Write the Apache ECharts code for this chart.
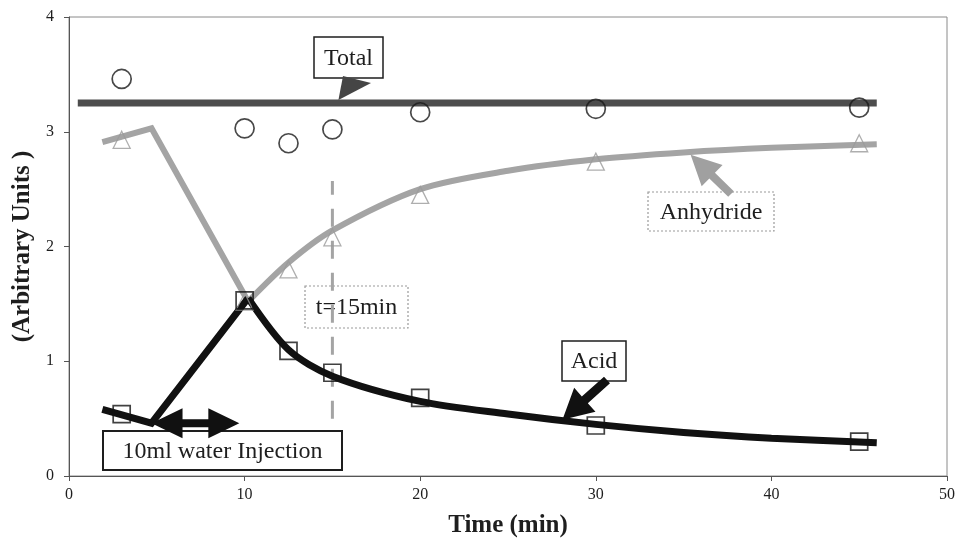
<!DOCTYPE html>
<html>
<head>
<meta charset="utf-8">
<script src="https://cdn.jsdelivr.net/npm/echarts@6/dist/echarts.min.js"></script>
<style>
  html, body { margin: 0; padding: 0; background: #ffffff; }
  #chart { width: 958px; height: 544px; }
</style>
</head>
<body>
<div id="chart"></div>
<script>
// Sampled times (min) and measured amounts (arbitrary units)
const sampleTimes = [3, 10, 12.5, 15, 20, 30, 45];
const totalMeasured = [3.46, 3.03, 2.90, 3.02, 3.17, 3.20, 3.21];
const anhydrideMeasured = [2.93, 1.52, 1.80, 2.08, 2.45, 2.74, 2.90];
const acidMeasured = [0.54, 1.53, 1.09, 0.90, 0.68, 0.44, 0.30];

// Total level line
const totalLevel = 3.25;
const totalSpanX = [0.5, 46];

// Anhydride trend: straight part before/at injection, then the recovery curve
const anhydrideStepX = [1.9, 4.7, 10.2];
const anhydrideStepY = [2.91, 3.03, 1.52];
const anhydrideFitX = [10.2, 12.5, 15, 20, 25, 30, 35, 40, 46];
const anhydrideFitY = [1.52, 1.86, 2.14, 2.50, 2.66, 2.76, 2.82, 2.86, 2.89];

// Acid trend: straight part before/at injection, then the decay curve
const acidStepX = [1.9, 4.7, 10.2];
const acidStepY = [0.58, 0.46, 1.55];
const acidFitX = [10.2, 12.5, 15, 20, 25, 30, 35, 40, 46];
const acidFitY = [1.55, 1.10, 0.87, 0.65, 0.54, 0.45, 0.38, 0.33, 0.29];

// Vertical marker at t = 15 min
const markerTime = 15;
const markerSpanY = [0.5, 2.57];

// Axis ticks
const xTicks = [0, 10, 20, 30, 40, 50];
const yTicks = [0, 1, 2, 3, 4];

const pairs = (xs, ys) => xs.map((x, i) => [x, ys[i]]);

const SERIF = '"Liberation Serif", "DejaVu Serif", serif';
const INK = '#1e1e1e';
const GREY = '#a4a4a4';

const chart = echarts.init(document.getElementById('chart'), null, { renderer: 'canvas' });

const option = {
  animation: false,
  backgroundColor: '#ffffff',
  grid: {
    left: 69, top: 17, right: 9, bottom: 68,
    show: true, borderColor: '#8a8a8a', borderWidth: 1, backgroundColor: 'transparent'
  },
  xAxis: {
    type: 'value',
    min: xTicks[0], max: xTicks[xTicks.length - 1], interval: xTicks[1] - xTicks[0],
    name: 'Time (min)', nameLocation: 'middle', nameGap: 37,
    nameTextStyle: { fontFamily: SERIF, fontWeight: 'bold', fontSize: 25, color: INK },
    axisLine: { show: true, lineStyle: { color: '#555', width: 1 } },
    axisTick: { show: true, inside: false, length: 5, lineStyle: { color: '#555' } },
    axisLabel: { fontFamily: SERIF, fontSize: 16, color: INK, margin: 11 },
    splitLine: { show: false }
  },
  yAxis: {
    type: 'value',
    min: yTicks[0], max: yTicks[yTicks.length - 1], interval: yTicks[1] - yTicks[0],
    name: '(Arbitrary Units )', nameLocation: 'middle', nameGap: 30, nameRotate: 90,
    nameTextStyle: { fontFamily: SERIF, fontWeight: 'bold', fontSize: 25, color: INK },
    axisLine: { show: true, lineStyle: { color: '#555', width: 1 } },
    axisTick: { show: true, inside: false, length: 5, lineStyle: { color: '#555' } },
    axisLabel: { fontFamily: SERIF, fontSize: 16, color: INK, margin: 15 },
    splitLine: { show: false }
  },
  series: [
    {
      name: 'Total level', type: 'line', data: [[totalSpanX[0], totalLevel], [totalSpanX[1], totalLevel]],
      showSymbol: false, symbol: 'none', silent: true, z: 2,
      lineStyle: { color: '#4d4d4d', width: 7 }
    },
    {
      name: 't marker', type: 'line', data: [[markerTime, markerSpanY[0]], [markerTime, markerSpanY[1]]],
      symbol: 'none', silent: true, z: 1,
      lineStyle: { color: GREY, width: 3, type: [18, 14] }
    },
    {
      name: 'Anhydride step', type: 'line', data: pairs(anhydrideStepX, anhydrideStepY),
      symbol: 'none', silent: true, z: 3,
      lineStyle: { color: GREY, width: 6, join: 'miter' }
    },
    {
      name: 'Anhydride fit', type: 'line', data: pairs(anhydrideFitX, anhydrideFitY),
      symbol: 'none', smooth: 0.3, silent: true, z: 3,
      lineStyle: { color: GREY, width: 6 }
    },
    {
      name: 'Acid step', type: 'line', data: pairs(acidStepX, acidStepY),
      symbol: 'none', silent: true, z: 4,
      lineStyle: { color: '#111', width: 7, join: 'miter' }
    },
    {
      name: 'Acid fit', type: 'line', data: pairs(acidFitX, acidFitY),
      symbol: 'none', smooth: 0.3, silent: true, z: 4,
      lineStyle: { color: '#111', width: 7 }
    },
    {
      name: 'Total', type: 'scatter', data: pairs(sampleTimes, totalMeasured),
      symbol: 'circle', symbolSize: 19, z: 5,
      itemStyle: { color: 'rgba(0,0,0,0)', borderColor: '#1a1a1a', borderWidth: 1.7 }
    },
    {
      name: 'Anhydride', type: 'scatter', data: pairs(sampleTimes, anhydrideMeasured),
      symbol: 'triangle', symbolSize: 17, z: 5,
      itemStyle: { color: 'rgba(0,0,0,0)', borderColor: '#9a9a9a', borderWidth: 1.3 }
    },
    {
      name: 'Acid', type: 'scatter', data: pairs(sampleTimes, acidMeasured),
      symbol: 'rect', symbolSize: 17, z: 5,
      itemStyle: { color: 'rgba(0,0,0,0)', borderColor: '#111', borderWidth: 1.7 }
    }
  ]
};

chart.setOption(option);

// ---- Annotations: labelled boxes with arrows ----
const px = (x, y) => chart.convertToPixel({ gridIndex: 0 }, [x, y]);

// Filled arrow polygon from tail to tip
function arrowPoints(tail, tip, shaft, headLen, headHalf) {
  const dx = tip[0] - tail[0], dy = tip[1] - tail[1];
  const len = Math.hypot(dx, dy);
  const ux = dx / len, uy = dy / len, nx = -uy, ny = ux;
  const bx = tip[0] - ux * headLen, by = tip[1] - uy * headLen;
  const s = shaft / 2;
  return [
    [tail[0] + nx * s, tail[1] + ny * s],
    [bx + nx * s, by + ny * s],
    [bx + nx * headHalf, by + ny * headHalf],
    tip,
    [bx - nx * headHalf, by - ny * headHalf],
    [bx - nx * s, by - ny * s],
    [tail[0] - nx * s, tail[1] - ny * s]
  ];
}

// Double-headed arrow polygon along a horizontal line
function doubleArrow(left, right, shaft, headLen, headHalf) {
  const y = left[1], s = shaft / 2;
  return [
    left,
    [left[0] + headLen, y - headHalf],
    [left[0] + headLen, y - s],
    [right[0] - headLen, y - s],
    [right[0] - headLen, y - headHalf],
    right,
    [right[0] - headLen, y + headHalf],
    [right[0] - headLen, y + s],
    [left[0] + headLen, y + s],
    [left[0] + headLen, y + headHalf]
  ];
}

function labelBox(x, y, w, h, text, stroke, dashed, lw) {
  return {
    type: 'group', x: x, y: y, z: 20,
    children: [
      { type: 'rect', shape: { x: 0, y: 0, width: w, height: h },
        style: { fill: '#ffffff', stroke: stroke, lineWidth: lw, lineDash: dashed ? [2, 2] : null } },
      { type: 'text', x: w / 2, y: h / 2 + 1,
        style: { text: text, fill: INK, font: '24px ' + SERIF, align: 'center', verticalAlign: 'middle' } }
    ]
  };
}

const totalTip = px(15.4, totalLevel);
const anhydrideTip = px(35.4, 2.80);
const acidTip = px(28.1, 0.49);
const injLeft = px(4.7, 0.46);
const injRight = px(9.7, 0.46);

chart.setOption({
  graphic: [
    // Total callout
    { type: 'polygon', z: 19,
      shape: { points: [[343, 76], [371, 83], [totalTip[0] - 1, totalTip[1] - 3]] },
      style: { fill: '#454545' } },
    labelBox(314, 37, 69, 41, 'Total', INK, false, 1.5),

    // Anhydride label and arrow
    { type: 'polygon', z: 19,
      shape: { points: arrowPoints([731, 194], anhydrideTip, 8, 30, 15) },
      style: { fill: '#a0a0a0' } },
    labelBox(648, 192, 126, 39, 'Anhydride', '#9a9a9a', true, 1.2),

    // t = 15 min label
    labelBox(305, 286, 103, 42, 't=15min', '#9a9a9a', true, 1.2),

    // Acid label and arrow
    { type: 'polygon', z: 19,
      shape: { points: arrowPoints([607, 380], acidTip, 9, 30, 16) },
      style: { fill: '#111' } },
    labelBox(562, 341, 64, 40, 'Acid', INK, false, 1.5),

    // Injection interval
    { type: 'polygon', z: 19,
      shape: { points: doubleArrow(injLeft, injRight, 8, 31, 15) },
      style: { fill: '#111' } },
    labelBox(103, 431, 239, 39, '10ml water Injection', INK, false, 2)
  ]
});
</script>
</body>
</html>
